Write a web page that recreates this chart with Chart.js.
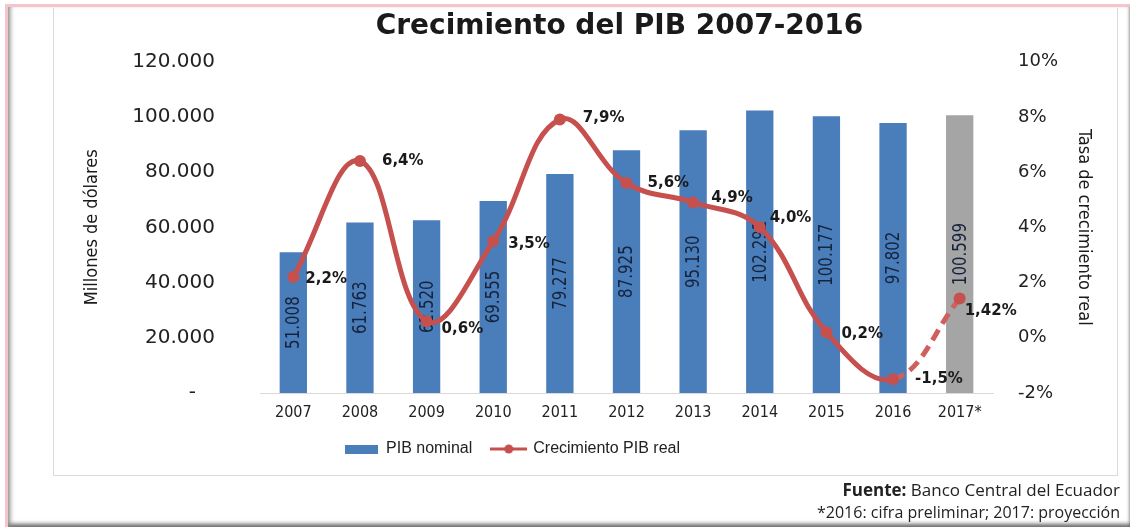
<!DOCTYPE html>
<html>
<head>
<meta charset="utf-8">
<script src="https://cdn.jsdelivr.net/npm/chart.js@4.4.1/dist/chart.umd.min.js"></script>
<style>
  body { margin: 0; background: #fff; }
  #wrap { position: relative; width: 1130px; height: 527px; overflow: hidden; background: #fff; }
  #outer { position: absolute; left: 5px; top: 4px; width: 1125px; height: 523px;
           border-top: 3px solid #F4C5CB; border-left: 3px solid #F4C5CB; box-sizing: border-box;
           box-shadow: inset 5px 0 5px -3px #8a8a8a, inset 0 -5px 4px -2px #666, inset -3px 0 3px -2px #aaa; }
  #inner { position: absolute; left: 53px; top: 8px; width: 1065px; height: 468px; box-sizing: border-box;
           border-left: 1px solid #DADADA; border-right: 1px solid #DADADA; border-bottom: 1px solid #DADADA; }
  #c { position: absolute; left: 0; top: 0; }
  #foot { position: absolute; right: 10px; top: 479px; text-align: right; font-family: 'Open Sans', sans-serif;
          color: #222; line-height: 22px; }
  #foot .l1 { font-size: 17px; }
  #foot .l2 { font-size: 16px; }
</style>
</head>
<body>
<div id="wrap">
  <div id="outer"></div>
  <div id="inner"></div>
  <canvas id="c" width="1130" height="527"></canvas>
  <div id="foot">
    <div class="l1"><b>Fuente:</b> Banco Central del Ecuador</div>
    <div class="l2">*2016: cifra preliminar; 2017: proyección</div>
  </div>
</div>
<script>
// datos
var anios = ['2007', '2008', '2009', '2010', '2011', '2012', '2013', '2014', '2015', '2016', '2017*'];
var pibNominal = [51008, 61763, 62520, 69555, 79277, 87925, 95130, 102292, 100177, 97802, 100599];
var crecimientoReal = [2.2, 6.4, 0.6, 3.5, 7.9, 5.6, 4.9, 4.0, 0.2, -1.5, 1.42];
var ticksPib = [0, 20000, 40000, 60000, 80000, 100000, 120000];
var ticksTasa = [-2, 0, 2, 4, 6, 8, 10];

// offsets of the % labels (dx, dy) from each point
var labelDx = [12, 22, 15, 15, 23, 21, 18, 10, 15, 22, 5];
var labelDy = [2, 0, 8, 3, -1, 0, -4, -9, 2, 0, 13];

var azul = '#4A7EBB';
var gris = '#A5A5A5';
var rojo = '#C5504E';

function miles(n) {
  return String(n).replace(/\B(?=(\d{3})+(?!\d))/g, '.');
}
function pct(v) {
  var s = (Math.round(v * 10) === v * 10) ? v.toFixed(1) : String(v);
  return s.replace('.', ',') + '%';
}

// legend icons
var barIcon = document.createElement('canvas');
barIcon.width = 33; barIcon.height = 9;
var bctx = barIcon.getContext('2d');
bctx.fillStyle = azul; bctx.fillRect(0, 0, 33, 9);

var lineIcon = document.createElement('canvas');
lineIcon.width = 37; lineIcon.height = 12;
var lctx = lineIcon.getContext('2d');
lctx.strokeStyle = rojo; lctx.lineWidth = 3;
lctx.beginPath(); lctx.moveTo(0, 6); lctx.lineTo(37, 6); lctx.stroke();
lctx.fillStyle = rojo; lctx.beginPath(); lctx.arc(18.5, 6, 4.5, 0, Math.PI * 2); lctx.fill();

var barLabels = {
  id: 'barLabels',
  afterDatasetDraw: function(chart, args) {
    if (args.index !== 0) return;
    var ctx = chart.ctx;
    args.meta.data.forEach(function(bar, i) {
      var yMid = (bar.y + bar.base) / 2;
      ctx.save();
      ctx.translate(bar.x, yMid);
      ctx.rotate(-Math.PI / 2);
      ctx.scale(0.88, 1);
      ctx.font = "19px 'Liberation Sans Narrow', 'DejaVu Sans Condensed', sans-serif";
      ctx.fillStyle = '#16233D';
      ctx.textAlign = 'center';
      ctx.textBaseline = 'middle';
      ctx.fillText(miles(pibNominal[i]), 0, 1);
      ctx.restore();
    });
  }
};

var pointLabels = {
  id: 'pointLabels',
  afterDatasetsDraw: function(chart) {
    var ctx = chart.ctx;
    var meta = chart.getDatasetMeta(1);
    ctx.save();
    ctx.font = "bold 15px 'DejaVu Sans', sans-serif";
    ctx.fillStyle = '#1a1a1a';
    ctx.textAlign = 'left';
    ctx.textBaseline = 'middle';
    meta.data.forEach(function(pt, i) {
      ctx.fillText(pct(crecimientoReal[i]), pt.x + labelDx[i], pt.y + labelDy[i]);
    });
    ctx.restore();
  }
};

// move title and legend off the default centre
var shiftBoxes = {
  id: 'shiftBoxes',
  afterLayout: function(chart) {
    var t = chart.titleBlock, lg = chart.legend;
    if (t) { t.left += 32; t.right += 32; }
    if (lg) { lg.left -= 75; lg.right -= 75; }
  }
};

var ctx = document.getElementById('c');
var grafico = new Chart(ctx, {
  type: 'bar',
  data: {
    labels: anios,
    datasets: [{
      type: 'bar',
      label: 'PIB nominal',
      data: pibNominal,
      yAxisID: 'y',
      backgroundColor: pibNominal.map(function(v, i) { return i === pibNominal.length - 1 ? gris : azul; }),
      barPercentage: 0.41,
      categoryPercentage: 1,
      order: 1
    }, {
      type: 'line',
      label: 'Crecimiento PIB real',
      data: crecimientoReal,
      yAxisID: 'y1',
      borderColor: rojo,
      backgroundColor: rojo,
      borderWidth: 5,
      tension: 0.4,
      pointRadius: 6,
      pointBackgroundColor: rojo,
      pointBorderColor: rojo,
      pointBorderWidth: 0,
      segment: {
        borderDash: function(c) { return c.p1DataIndex === crecimientoReal.length - 1 ? [12, 7] : undefined; },
        borderColor: function(c) { return c.p1DataIndex === crecimientoReal.length - 1 ? '#D0605E' : undefined; }
      },
      order: 0
    }]
  },
  options: {
    responsive: false,
    animation: false,
    events: [],
    layout: { padding: { left: 70, right: 25, top: 0, bottom: 60 } },
    plugins: {
      title: {
        display: true,
        text: 'Crecimiento del PIB 2007-2016',
        color: '#1a1a1a',
        font: { family: "'DejaVu Sans', sans-serif", size: 28, weight: 'bold' },
        padding: { top: 10, bottom: 18 }
      },
      legend: {
        position: 'bottom',
        labels: {
          color: '#222',
          font: { family: "'Liberation Sans', sans-serif", size: 16 },
          usePointStyle: true,
          pointStyleWidth: 33,
          padding: 20,
          sort: function(a, b) { return a.datasetIndex - b.datasetIndex; },
          generateLabels: function(chart) {
            var items = Chart.defaults.plugins.legend.labels.generateLabels(chart);
            items.forEach(function(it) {
              it.pointStyle = it.datasetIndex === 0 ? barIcon : lineIcon;
            });
            return items;
          }
        }
      },
      tooltip: { enabled: false }
    },
    scales: {
      x: {
        grid: { display: false, drawTicks: false },
        border: { display: true, color: '#D9D9D9', width: 1 },
        ticks: {
          color: '#222',
          padding: 10,
          font: { family: "'Liberation Sans Narrow', 'DejaVu Sans Condensed', sans-serif", size: 16 }
        },
        afterFit: function(s) { s.height = 28; }
      },
      y: {
        position: 'left',
        min: 0,
        max: 120000,
        afterBuildTicks: function(s) { s.ticks = ticksPib.map(function(v) { return { value: v }; }); },
        grid: { display: false, drawTicks: false },
        border: { display: false },
        ticks: {
          color: '#222',
          padding: 45,
          font: { family: "'DejaVu Sans', sans-serif", size: 20 },
          callback: function(v) { return v === 0 ? '-   ' : miles(v); }
        },
        title: {
          display: true,
          text: 'Millones de dólares',
          color: '#1a1a1a',
          font: { family: "'Liberation Sans Narrow', 'DejaVu Sans Condensed', sans-serif", size: 18 },
          padding: { top: 12, bottom: 0 }
        },
        afterFit: function(s) { s.width = 190; }
      },
      y1: {
        position: 'right',
        min: -2,
        max: 10,
        afterBuildTicks: function(s) { s.ticks = ticksTasa.map(function(v) { return { value: v }; }); },
        grid: { display: false, drawTicks: false },
        border: { display: false },
        ticks: {
          color: '#222',
          padding: 25,
          font: { family: "'DejaVu Sans', sans-serif", size: 18 },
          callback: function(v) { return v + '%'; }
        },
        title: {
          display: true,
          text: 'Tasa de crecimiento real',
          color: '#1a1a1a',
          font: { family: "'Liberation Sans Narrow', 'DejaVu Sans Condensed', sans-serif", size: 18 },
          padding: { top: 11, bottom: 0 }
        },
        afterFit: function(s) { s.width = 112; }
      }
    }
  },
  plugins: [barLabels, pointLabels, shiftBoxes]
});
</script>
</body>
</html>
